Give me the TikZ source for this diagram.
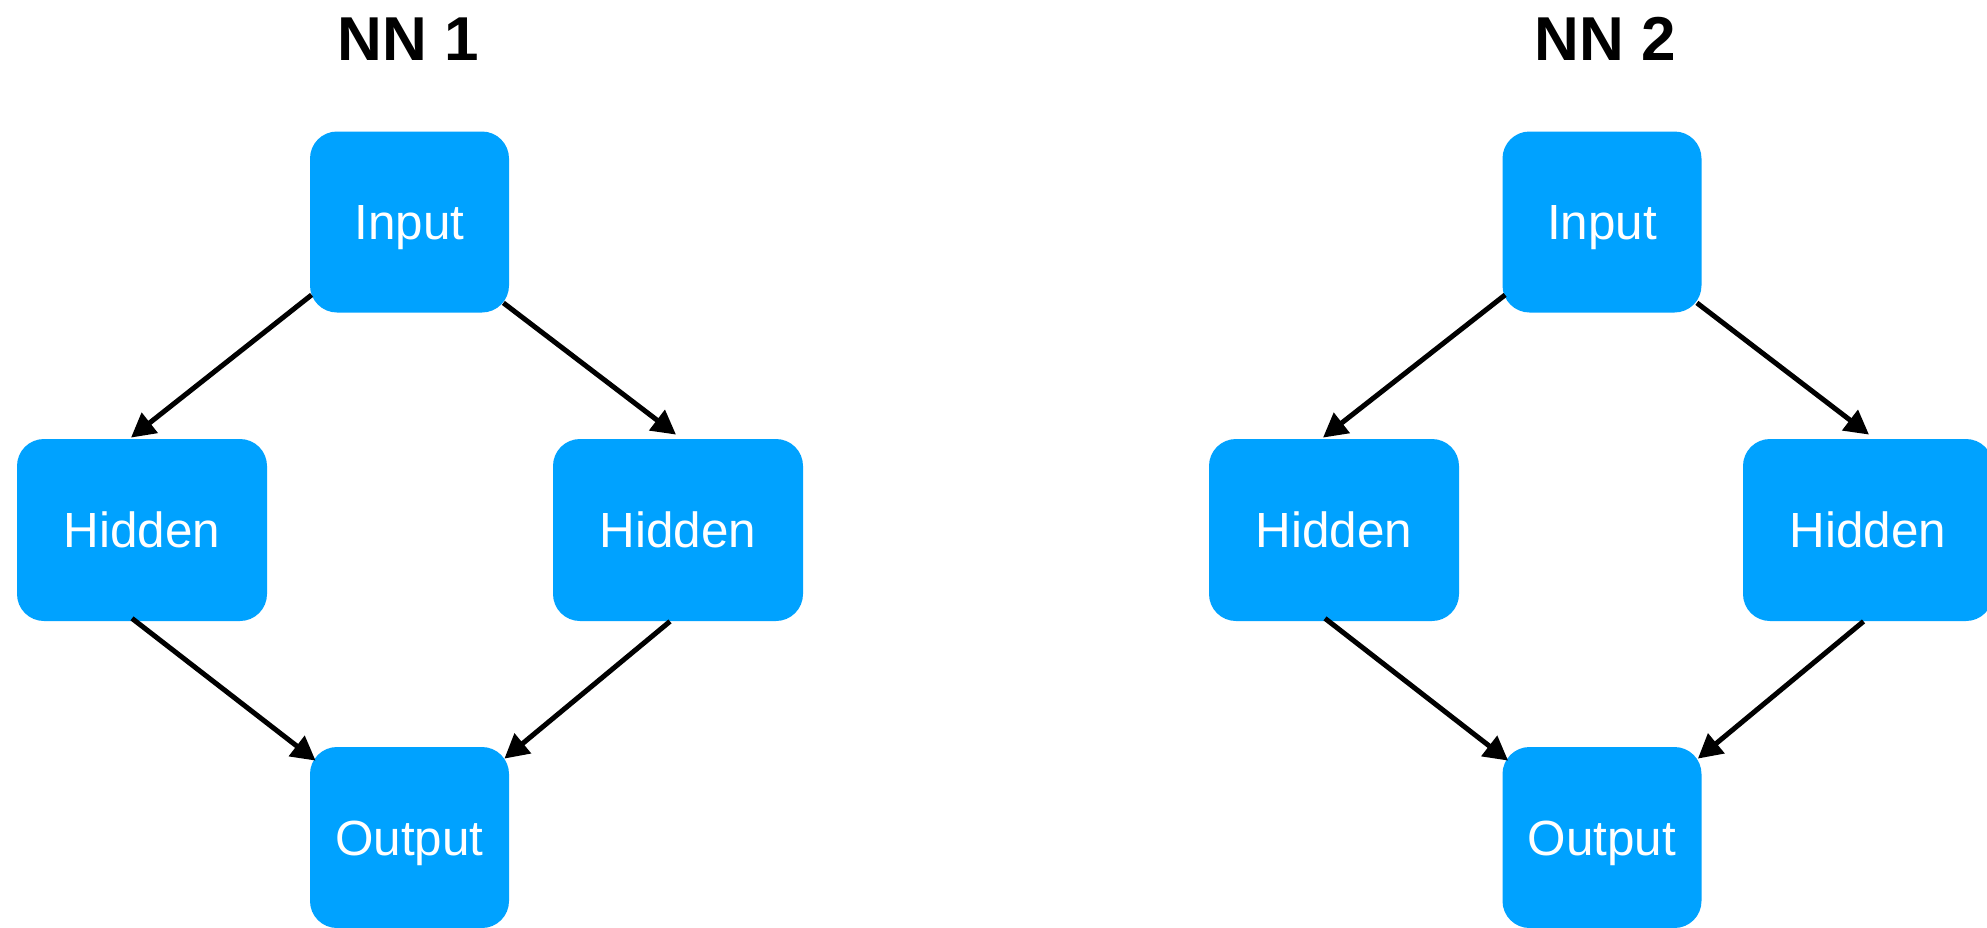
\documentclass[tikz,border=0pt]{standalone}
\usepackage{fontspec}
\setmainfont{Liberation Sans}
\usetikzlibrary{calc,arrows.meta}
\definecolor{boxblue}{RGB}{0,162,255}
\tikzset{
  nnbox/.style={rectangle, rounded corners=13.5pt, fill=boxblue, draw=none,
    text=white, font=\fontsize{24.7pt}{27pt}\selectfont,
    text height=17.5pt, text depth=0pt, inner sep=0pt},
  inbox/.style={nnbox, minimum width=99.5pt, minimum height=90.5pt},
  hidbox/.style={nnbox, minimum width=125pt, minimum height=91pt},
  title/.style={font=\fontsize{31pt}{34pt}\selectfont\bfseries, text height=23pt, text depth=0pt, inner sep=0pt},
  conn/.style={draw=black, line width=2.5pt, -{Triangle[length=12pt,width=12.5pt]}}
}
\begin{document}
\begin{tikzpicture}[x=0.5pt,y=-0.5pt]
\clip (0,0) rectangle (1987,927);
\fill[white] (0,0) rectangle (1987,927);
% NN 1
\node[title] (t1) at (408,37) {NN 1};
\node[inbox] (in1) at (409.5,222) {Input};
\node[hidbox] (hl1) at (142,530) {Hidden};
\node[hidbox] (hr1) at (678,530) {Hidden};
\node[inbox] (out1) at (409.5,837.5) {Output};
\draw[conn] ($(in1.south west)+(2,-18)$) -- ($(hl1.north)+(-11,-1)$);
\draw[conn] ($(in1.south east)+(-6,-10)$) -- ($(hr1.north)+(-2,-4)$);
\draw[conn] ($(hl1.south)+(-10,-3)$) -- ($(out1.north west)+(6,14)$);
\draw[conn] ($(hr1.south)+(-8,0)$) -- ($(out1.north east)+(-5,12)$);
% NN 2
\node[title] (t2) at (1605,37) {NN 2};
\node[inbox] (in2) at (1602,222) {Input};
\node[hidbox] (hl2) at (1334,530) {Hidden};
\node[hidbox] (hr2) at (1868,530) {Hidden};
\node[inbox] (out2) at (1602,837.5) {Output};
\draw[conn] ($(in2.south west)+(3,-18)$) -- ($(hl2.north)+(-11,-1)$);
\draw[conn] ($(in2.south east)+(-5,-10)$) -- ($(hr2.north)+(1,-4)$);
\draw[conn] ($(hl2.south)+(-9,-3)$) -- ($(out2.north west)+(6,14)$);
\draw[conn] ($(hr2.south)+(-4.5,0)$) -- ($(out2.north east)+(-4,12)$);
\end{tikzpicture}
\end{document}
